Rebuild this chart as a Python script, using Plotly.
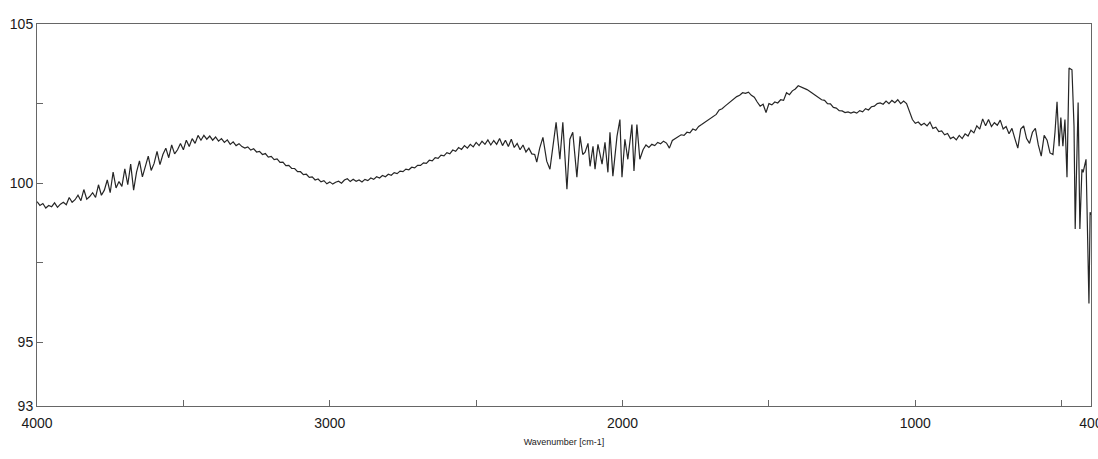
import numpy as np
import plotly.graph_objects as go

# ---- Data (wavenumber in cm-1, transmittance %) ----
# Segment A: 4000 -> 2310, step 10
wn_a = np.arange(4000, 2300, -10)
t_a = [
    99.42, 99.30, 99.36, 99.22, 99.30, 99.26, 99.38, 99.24, 99.34, 99.40,
    99.32, 99.55, 99.40, 99.48, 99.62, 99.45, 99.80, 99.50, 99.58, 99.70,
    99.55, 99.95, 99.62, 99.78, 100.10, 99.70, 100.35, 99.85, 100.05, 99.90,
    100.45, 99.95, 100.60, 99.78, 100.35, 100.70, 100.20, 100.55, 100.85, 100.40,
    100.62, 101.00, 100.58, 100.90, 101.10, 100.80, 101.20, 100.92, 101.05, 101.25,
    101.05, 101.35, 101.15, 101.40, 101.25, 101.50, 101.35, 101.50, 101.38, 101.48,
    101.35, 101.45, 101.32, 101.40, 101.28, 101.36, 101.22, 101.30, 101.18, 101.24,
    101.15, 101.10, 101.14, 101.04, 101.08, 100.98, 101.00, 100.90, 100.93, 100.82,
    100.84, 100.74, 100.76, 100.65, 100.66, 100.55, 100.56, 100.46, 100.46, 100.36,
    100.36, 100.27, 100.28, 100.18, 100.20, 100.10, 100.13, 100.04, 100.08, 99.98,
    100.04, 99.97, 100.03, 100.06, 100.00, 100.10, 100.14, 100.05, 100.12, 100.06,
    100.10, 100.04, 100.12, 100.08, 100.16, 100.12, 100.20, 100.16, 100.24, 100.20,
    100.28, 100.25, 100.33, 100.30, 100.38, 100.36, 100.44, 100.42, 100.50, 100.48,
    100.56, 100.56, 100.64, 100.62, 100.72, 100.70, 100.80, 100.78, 100.88, 100.86,
    100.96, 100.92, 101.04, 101.00, 101.12, 101.06, 101.18, 101.10, 101.22, 101.14,
    101.28, 101.18, 101.32, 101.22, 101.36, 101.20, 101.34, 101.22, 101.40, 101.18,
    101.35, 101.15, 101.38, 101.12, 101.25, 101.05, 101.20, 100.98, 101.10, 100.92,
]

# Segment D: noisy region 2300 -> 1941
wn_d = [2300, 2293, 2283, 2272, 2259, 2248, 2237, 2227, 2214, 2204,
        2190, 2180, 2170, 2156, 2145, 2136, 2128, 2118, 2111, 2101,
        2094, 2084, 2070, 2060, 2050, 2043, 2033, 2019, 2009, 2002,
        1992, 1982, 1968, 1961, 1951, 1941]
t_d = [100.90, 100.66, 101.10, 101.44, 100.69, 100.44, 101.20, 101.91, 100.75, 101.91,
       99.81, 101.38, 101.60, 100.19, 101.47, 100.90, 100.97, 101.25, 100.53, 101.16,
       100.44, 101.22, 100.60, 101.28, 100.34, 101.60, 100.22, 101.47, 102.00, 100.19,
       101.38, 100.75, 101.84, 100.38, 101.84, 100.75]

# Segment E: 1930 -> 1040, step 10
wn_e = np.arange(1930, 1030, -10)
t_e = [
    101.05, 101.20, 101.12, 101.22, 101.18, 101.28, 101.24, 101.32, 101.26, 101.10,
    101.34, 101.40, 101.44, 101.52, 101.50, 101.60, 101.58, 101.70, 101.66, 101.78,
    101.84, 101.90, 101.96, 102.04, 102.10, 102.16, 102.30, 102.34, 102.42, 102.50,
    102.58, 102.64, 102.72, 102.76, 102.84, 102.82, 102.86, 102.76, 102.70, 102.55,
    102.42, 102.48, 102.22, 102.50, 102.46, 102.55, 102.52, 102.62, 102.60, 102.84,
    102.78, 102.90, 102.96, 103.06, 103.02, 103.00, 102.94, 102.88, 102.82, 102.76,
    102.70, 102.62, 102.60, 102.50, 102.49, 102.38, 102.36, 102.28, 102.27, 102.22,
    102.24, 102.20, 102.24, 102.20, 102.28, 102.24, 102.34, 102.30, 102.40, 102.42,
    102.50, 102.52, 102.48, 102.58, 102.50, 102.60, 102.53, 102.62, 102.50, 102.58,
]

# Segment F: 1030 -> 530, step 10
wn_f = np.arange(1030, 520, -10)
t_f = [
    102.50, 102.22, 102.00, 101.88, 101.92, 101.82, 101.88, 101.80, 101.92, 101.72,
    101.76, 101.62, 101.64, 101.52, 101.56, 101.40, 101.45, 101.36, 101.50, 101.40,
    101.55, 101.48, 101.66, 101.58, 101.80, 101.70, 102.02, 101.80, 102.00, 101.78,
    101.90, 101.82, 101.98, 101.70, 101.78, 101.55, 101.72, 101.40, 101.10, 101.70,
    101.80, 101.40, 101.25, 101.60, 101.72, 101.20, 100.85, 101.50, 101.35, 100.95,
    100.90,
]

# Segment G: low-wavenumber noisy end 523 -> 400
wn_g = [523, 516, 509, 503, 496, 489, 482, 475, 465, 458,
        454, 444, 438, 431, 427, 417, 414, 407, 403, 400]
t_g = [101.60, 102.56, 101.16, 102.06, 101.16, 102.00, 100.19, 103.62, 103.56, 101.78,
       98.56, 102.53, 98.56, 100.44, 100.34, 100.75, 99.41, 96.22, 99.09, 99.00]

x_major = [4000, 3000, 2000, 1000, 400]
x_major_text = ["4000", "3000", "2000", "1000", "400"]
x_minor = [3500, 2500, 1500, 500]
y_major = [93, 95, 100, 105]
y_major_text = ["93", "95", "100", "105"]
y_minor = [97.5, 102.5]

wavenumber = list(wn_a) + wn_d + list(wn_e) + list(wn_f) + wn_g
transmittance = t_a + t_d + t_e + t_f + t_g

fig = go.Figure()
fig.add_trace(go.Scatter(
    x=wavenumber, y=transmittance, mode="lines",
    line=dict(color="#262626", width=1.2),
    hoverinfo="x+y",
))

axis_color = "#666666"
fig.update_layout(
    width=1098, height=459,
    margin=dict(l=37, r=7, t=24, b=53, autoexpand=False),
    plot_bgcolor="white", paper_bgcolor="white",
    showlegend=False,
    font=dict(family="Liberation Sans, Arial, sans-serif", size=14, color="#1a1a1a"),
    xaxis=dict(
        range=[4000, 400],
        tickmode="array", tickvals=x_major, ticktext=x_major_text,
        ticks="inside", ticklen=6, tickcolor=axis_color, tickwidth=1,
        ticklabelstandoff=4, ticklabeloverflow="allow",
        minor=dict(tickmode="array", tickvals=x_minor, ticks="inside",
                   ticklen=6, tickcolor=axis_color, tickwidth=1, showgrid=False),
        showline=True, linecolor=axis_color, linewidth=1, mirror=True,
        showgrid=False, zeroline=False,
        title=dict(text="Wavenumber [cm-1]", font=dict(size=9, color="#1a1a1a"), standoff=8),
    ),
    yaxis=dict(
        range=[93, 105],
        tickmode="array", tickvals=y_major, ticktext=y_major_text,
        ticks="inside", ticklen=6, tickcolor=axis_color, tickwidth=1,
        ticklabeloverflow="allow",
        minor=dict(tickmode="array", tickvals=y_minor, ticks="inside",
                   ticklen=6, tickcolor=axis_color, tickwidth=1, showgrid=False),
        showline=True, linecolor=axis_color, linewidth=1, mirror=True,
        showgrid=False, zeroline=False,
    ),
)

fig.write_html(
    "out.html",
    config={"displayModeBar": False},
    post_script="document.body.style.margin='0';document.body.style.overflow='hidden';",
)
